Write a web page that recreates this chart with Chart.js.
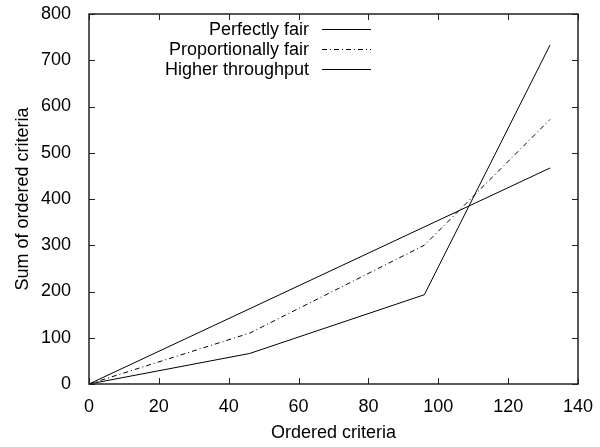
<!DOCTYPE html>
<html>
<head>
<meta charset="utf-8">
<script src="https://cdn.jsdelivr.net/npm/chart.js@4.4.0/dist/chart.umd.min.js"></script>
<style>
  body { margin: 0; background: #fff; }
  canvas { display: block; }
</style>
</head>
<body>
<canvas id="chart" width="600" height="447"></canvas>
<script>
// data
var seriesNames = ['Perfectly fair', 'Proportionally fair', 'Higher throughput'];
var fairX = [0, 132];
var fairY = [0, 467];
var propX = [0, 46, 96, 132];
var propY = [0, 110, 300, 572];
var highX = [0, 46, 96, 132];
var highY = [0, 66, 193, 733];
var xTicks = [0, 20, 40, 60, 80, 100, 120, 140];
var yTicks = [0, 100, 200, 300, 400, 500, 600, 700, 800];

var dashes = [[], [5, 3, 1, 3], []];
var FONT = 'Liberation Sans, Arial, sans-serif';

function pts(xs, ys) {
    return xs.map(function (x, i) { return { x: x, y: ys[i] }; });
}

// gnuplot-like frame: box + inward ticks on all sides, legend at top
var framePlugin = {
    id: 'frame',
    afterDatasetsDraw: function (chart) {
        var ctx = chart.ctx;
        var a = chart.chartArea;
        var xs = chart.scales.x, ys = chart.scales.y;
        ctx.save();
        ctx.strokeStyle = '#222';
        ctx.lineWidth = 1;
        ctx.setLineDash([]);
        ctx.beginPath();
        xTicks.forEach(function (v) {
            var px = Math.round(xs.getPixelForValue(v)) + 0.5;
            ctx.moveTo(px, a.bottom); ctx.lineTo(px, a.bottom - 6);
            ctx.moveTo(px, a.top); ctx.lineTo(px, a.top + 6);
        });
        yTicks.forEach(function (v) {
            var py = Math.round(ys.getPixelForValue(v)) + 0.5;
            ctx.moveTo(a.left, py); ctx.lineTo(a.left + 6, py);
            ctx.moveTo(a.right, py); ctx.lineTo(a.right - 6, py);
        });
        ctx.stroke();
        ctx.lineWidth = 1.5;
        ctx.strokeRect(a.left, a.top, a.right - a.left, a.bottom - a.top);

        // legend
        ctx.font = '18px ' + FONT;
        ctx.fillStyle = '#000';
        ctx.textAlign = 'right';
        ctx.textBaseline = 'middle';
        ctx.lineWidth = 1;
        ctx.strokeStyle = '#000';
        seriesNames.forEach(function (name, i) {
            var y = 29 + i * 20;
            ctx.fillText(name, 309, y + 1);
            ctx.setLineDash(dashes[i]);
            ctx.beginPath();
            ctx.moveTo(322, y + 0.5);
            ctx.lineTo(371, y + 0.5);
            ctx.stroke();
        });
        ctx.restore();
    }
};

var ctx = document.getElementById('chart').getContext('2d');
var chart = new Chart(ctx, {
    type: 'scatter',
    data: {
        datasets: [
            { label: seriesNames[0], data: pts(fairX, fairY) },
            { label: seriesNames[1], data: pts(propX, propY), borderDash: dashes[1] },
            { label: seriesNames[2], data: pts(highX, highY) }
        ].map(function (d) {
            d.showLine = true;
            d.borderColor = '#000';
            d.borderWidth = 1;
            d.pointRadius = 0;
            d.fill = false;
            d.tension = 0;
            return d;
        })
    },
    options: {
        responsive: false,
        animation: false,
        layout: { padding: { top: 14, right: 22, left: 0, bottom: 0 } },
        plugins: {
            legend: { display: false },
            tooltip: { enabled: false }
        },
        scales: {
            x: {
                type: 'linear',
                min: 0, max: 140,
                grid: { display: false, drawTicks: false },
                border: { display: false },
                afterBuildTicks: function (s) { s.ticks = xTicks.map(function (v) { return { value: v }; }); },
                afterFit: function (s) { s.height = 63; s.paddingLeft = 0; s.paddingRight = 0; },
                ticks: { color: '#000', padding: 12, maxRotation: 0, font: { family: FONT, size: 18 } },
                title: { display: true, text: 'Ordered criteria', color: '#000', padding: { top: 0, bottom: 3 }, font: { family: FONT, size: 18 } }
            },
            y: {
                min: 0, max: 800,
                grid: { display: false, drawTicks: false },
                border: { display: false },
                afterBuildTicks: function (s) { s.ticks = yTicks.map(function (v) { return { value: v }; }); },
                afterFit: function (s) { s.width = 89; s.paddingTop = 0; s.paddingBottom = 0; },
                ticks: { color: '#000', padding: 18, font: { family: FONT, size: 18 } },
                title: { display: true, text: 'Sum of ordered criteria', color: '#000', padding: { top: 12, bottom: 0 }, font: { family: FONT, size: 18 } }
            }
        }
    },
    plugins: [framePlugin]
});
</script>
</body>
</html>
